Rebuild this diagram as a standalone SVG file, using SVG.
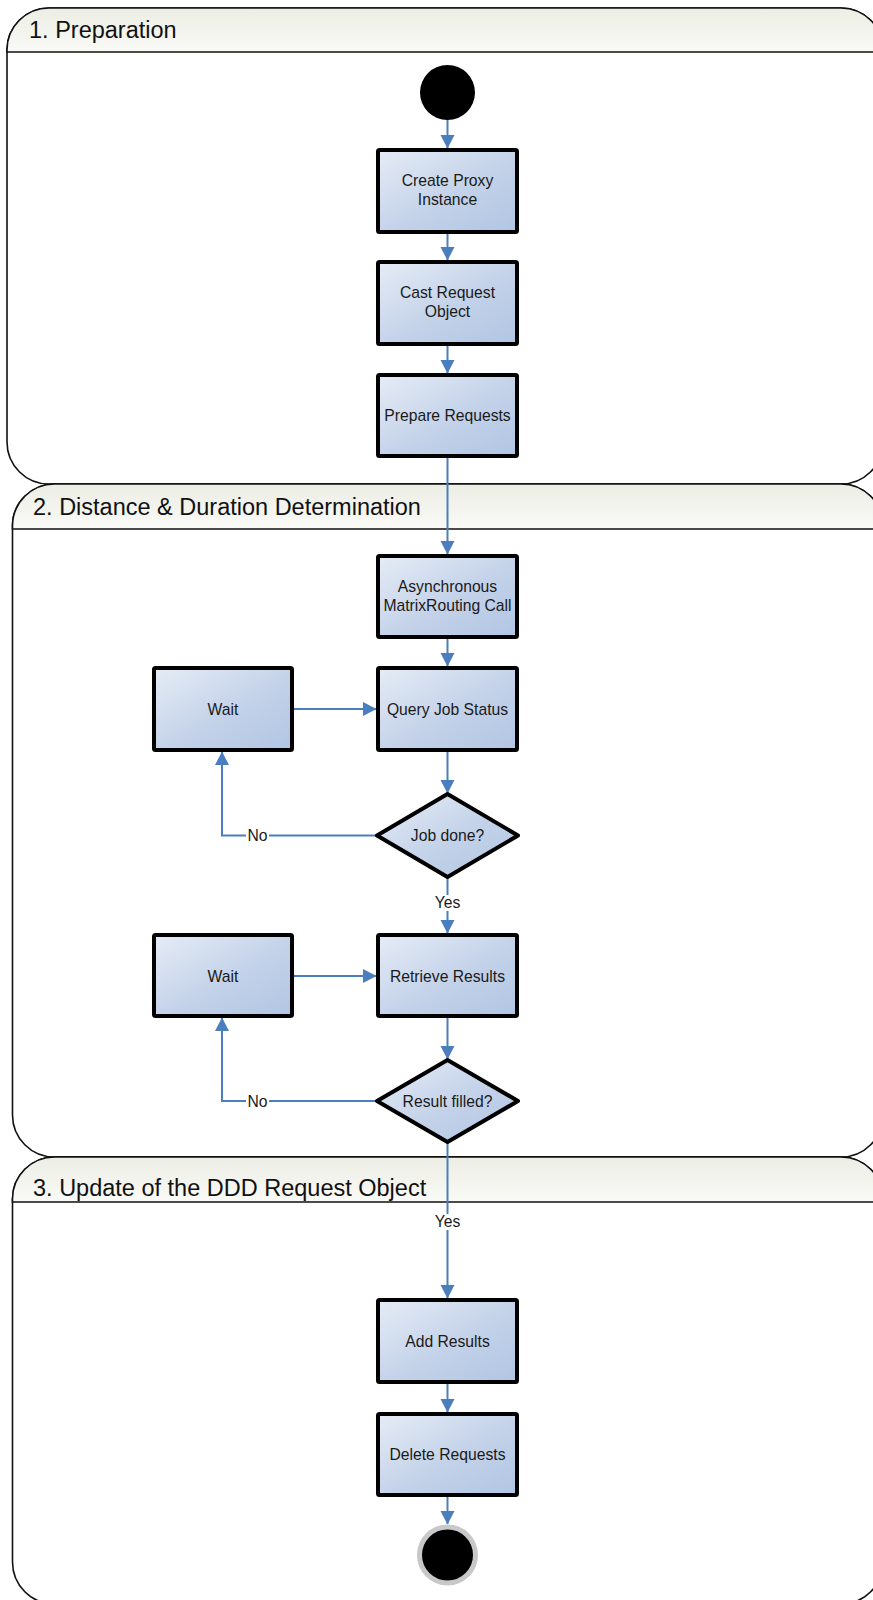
<svg xmlns="http://www.w3.org/2000/svg" width="873" height="1600" viewBox="0 0 873 1600">
<defs>
<linearGradient id="hdr" x1="0" y1="0" x2="0" y2="1"><stop offset="0" stop-color="#ecede4"/><stop offset="1" stop-color="#fafaf7"/></linearGradient>
<linearGradient id="box" x1="0" y1="0" x2="1" y2="1"><stop offset="0" stop-color="#e6ecf6"/><stop offset="0.55" stop-color="#c3d2e9"/><stop offset="1" stop-color="#b1c5e3"/></linearGradient>
<marker id="arr" markerUnits="userSpaceOnUse" markerWidth="15" markerHeight="15" refX="13" refY="7" orient="auto"><path d="M0,0 L13.5,7 L0,14 Z" fill="#4a7ebf"/></marker>
</defs>
<style>
.pnl{fill:#ffffff;stroke:#111;stroke-width:1.6}
.hdr{fill:url(#hdr);stroke:#111;stroke-width:1.6}
.ptx{font-family:"Liberation Sans",Arial,sans-serif;font-size:23.5px;fill:#111}
.nd{fill:url(#box);stroke:#000;stroke-width:4;stroke-linejoin:round}
.tx{font-family:"Liberation Sans",Arial,sans-serif;font-size:15.7px;fill:#1a1a1a;text-anchor:middle}
.cn{fill:none;stroke:#4a7ebf;stroke-width:2}
.lbg{fill:#ffffff}
</style>

<g id="panel1">
<path class="pnl" d="M49,8 H841 A42,42 0 0 1 883,50 V442 A42,42 0 0 1 841,484 H49 A42,42 0 0 1 7,442 V50 A42,42 0 0 1 49,8 Z"/>
<path class="hdr" d="M7,52 V50 A42,42 0 0 1 49,8 H841 A42,42 0 0 1 883,50 V52 Z"/>
<text class="ptx" x="29" y="38">1. Preparation</text>
</g>
<g id="panel2">
<path class="pnl" d="M54.5,484 H841 A42,42 0 0 1 883,526 V1115 A42,42 0 0 1 841,1157 H54.5 A42,42 0 0 1 12.5,1115 V526 A42,42 0 0 1 54.5,484 Z"/>
<path class="hdr" d="M12.5,529 V526 A42,42 0 0 1 54.5,484 H841 A42,42 0 0 1 883,526 V529 Z"/>
<text class="ptx" x="33" y="514.5">2. Distance &amp; Duration Determination</text>
</g>
<g id="panel3">
<path class="pnl" d="M54.5,1157 H841 A42,42 0 0 1 883,1199 V1562 A42,42 0 0 1 841,1604 H54.5 A42,42 0 0 1 12.5,1562 V1199 A42,42 0 0 1 54.5,1157 Z"/>
<path class="hdr" d="M12.5,1202 V1199 A42,42 0 0 1 54.5,1157 H841 A42,42 0 0 1 883,1199 V1202 Z"/>
<text class="ptx" x="33" y="1195.5">3. Update of the DDD Request Object</text>
</g>

<g id="connectors">
<path class="cn" d="M447.5,120 V148" marker-end="url(#arr)"/>
<path class="cn" d="M447.5,234 V260" marker-end="url(#arr)"/>
<path class="cn" d="M447.5,346 V373" marker-end="url(#arr)"/>
<path class="cn" d="M447.5,458 V554" marker-end="url(#arr)"/>
<path class="cn" d="M447.5,639 V666" marker-end="url(#arr)"/>
<path class="cn" d="M294,709 H376" marker-end="url(#arr)"/>
<path class="cn" d="M447.5,752 V793" marker-end="url(#arr)"/>
<path class="cn" d="M376,835.5 H222 V752" marker-end="url(#arr)"/>
<path class="cn" d="M447.5,878 V933" marker-end="url(#arr)"/>
<path class="cn" d="M294,976 H376" marker-end="url(#arr)"/>
<path class="cn" d="M447.5,1018 V1059" marker-end="url(#arr)"/>
<path class="cn" d="M376,1101 H222 V1018" marker-end="url(#arr)"/>
<path class="cn" d="M447.5,1142 V1298" marker-end="url(#arr)"/>
<path class="cn" d="M447.5,1384 V1412" marker-end="url(#arr)"/>
<path class="cn" d="M447.5,1497 V1524" marker-end="url(#arr)"/>
<rect class="lbg" x="246" y="827" width="23" height="17"/>
<text class="tx" x="257.5" y="841">No</text>
<rect class="lbg" x="246" y="1093" width="23" height="17"/>
<text class="tx" x="257.5" y="1107">No</text>
<rect class="lbg" x="433" y="895" width="29" height="16"/>
<text class="tx" x="447.5" y="908">Yes</text>
<rect class="lbg" x="433" y="1214" width="29" height="16"/>
<text class="tx" x="447.5" y="1227">Yes</text>
</g>

<g id="start"><circle cx="447.5" cy="92.5" r="27.5" fill="#000"/></g>
<g id="createProxy"><rect class="nd" x="378" y="150" width="139" height="82" rx="1.5"/><text class="tx" x="447.5" y="186">Create Proxy</text><text class="tx" x="447.5" y="205">Instance</text></g>
<g id="castRequest"><rect class="nd" x="378" y="262" width="139" height="82" rx="1.5"/><text class="tx" x="447.5" y="298">Cast Request</text><text class="tx" x="447.5" y="317">Object</text></g>
<g id="prepareRequests"><rect class="nd" x="378" y="375" width="139" height="81" rx="1.5"/><text class="tx" x="447.5" y="421">Prepare Requests</text></g>
<g id="asyncCall"><rect class="nd" x="378" y="556" width="139" height="81" rx="1.5"/><text class="tx" x="447.5" y="592">Asynchronous</text><text class="tx" x="447.5" y="611">MatrixRouting Call</text></g>
<g id="wait1"><rect class="nd" x="154" y="668" width="138" height="82" rx="1.5"/><text class="tx" x="223" y="714.5">Wait</text></g>
<g id="queryJob"><rect class="nd" x="378" y="668" width="139" height="82" rx="1.5"/><text class="tx" x="447.5" y="714.5">Query Job Status</text></g>
<g id="jobDone"><path class="nd" d="M447.5,794 L518,835.5 L447.5,877 L377,835.5 Z"/><text class="tx" x="447.5" y="841">Job done?</text></g>
<g id="wait2"><rect class="nd" x="154" y="935" width="138" height="81" rx="1.5"/><text class="tx" x="223" y="981.5">Wait</text></g>
<g id="retrieveResults"><rect class="nd" x="378" y="935" width="139" height="81" rx="1.5"/><text class="tx" x="447.5" y="981.5">Retrieve Results</text></g>
<g id="resultFilled"><path class="nd" d="M447.5,1060 L518,1101 L447.5,1142 L377,1101 Z"/><text class="tx" x="447.5" y="1106.5">Result filled?</text></g>
<g id="addResults"><rect class="nd" x="378" y="1300" width="139" height="82" rx="1.5"/><text class="tx" x="447.5" y="1346.5">Add Results</text></g>
<g id="deleteRequests"><rect class="nd" x="378" y="1414" width="139" height="81" rx="1.5"/><text class="tx" x="447.5" y="1460">Delete Requests</text></g>
<g id="end"><circle cx="447.5" cy="1555" r="28" fill="#000" stroke="#c8c8c8" stroke-width="5"/></g>
</svg>
